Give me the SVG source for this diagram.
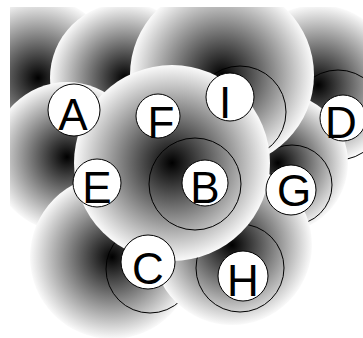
<svg xmlns="http://www.w3.org/2000/svg" width="363" height="338" viewBox="0 0 363 338">
<defs>
<radialGradient id="halo"><stop offset="0" stop-color="#000"/><stop offset="1" stop-color="#fafafa"/></radialGradient>
<clipPath id="frame"><rect x="10" y="7" width="353" height="331"/></clipPath>
<style>
.disc{fill:url(#halo)}
.ring{fill:none;stroke:#000;stroke-width:1}
.node{fill:#fff;stroke:#000;stroke-width:1}
.lbl{font-family:"Liberation Sans",Arial,sans-serif;font-size:44px;text-anchor:middle;fill:#000}
</style>
</defs>
<rect width="363" height="338" fill="#fff"/>
<g id="halos" clip-path="url(#frame)">
<g id="halo-A"><circle class="disc" cx="38" cy="78" r="80"/></g>
<g id="halo-D"><circle class="disc" cx="318" cy="85" r="80"/><circle class="ring" cx="338" cy="115" r="45"/></g>
<g id="halo-G"><circle class="disc" cx="278" cy="163" r="70"/><circle class="ring" cx="292" cy="185" r="40"/></g>
<g id="halo-F"><circle class="disc" cx="125" cy="78" r="75"/></g>
<g id="halo-E"><circle class="disc" cx="67" cy="157" r="75"/></g>
<g id="halo-I"><circle class="disc" cx="222" cy="75" r="92"/><circle class="ring" cx="240" cy="112" r="46"/></g>
<g id="halo-C"><circle class="disc" cx="112" cy="257" r="82"/><circle class="ring" cx="150" cy="269" r="44"/></g>
<g id="halo-H"><circle class="disc" cx="232" cy="245" r="80"/><circle class="ring" cx="240" cy="268" r="44"/></g>
<g id="halo-B"><circle class="disc" cx="172" cy="163" r="98"/><circle class="ring" cx="195" cy="184" r="46"/></g>
</g>
<g id="connectors"></g>
<g id="A"><circle class="node" cx="74" cy="110" r="26"/><text class="lbl" x="73" y="130">A</text></g>
<g id="F"><circle class="node" cx="158" cy="116" r="22"/><text class="lbl" x="161" y="138">F</text></g>
<g id="I"><circle class="node" cx="230" cy="97" r="24"/><text class="lbl" x="225" y="118">I</text></g>
<g id="D"><circle class="node" cx="343" cy="118" r="23"/><text class="lbl" x="341" y="138">D</text></g>
<g id="E"><circle class="node" cx="97" cy="183" r="24"/><text class="lbl" x="97" y="203">E</text></g>
<g id="B"><circle class="node" cx="205" cy="183" r="23"/><text class="lbl" x="205" y="203">B</text></g>
<g id="G"><circle class="node" cx="291" cy="190" r="25"/><text class="lbl" x="294" y="206">G</text></g>
<g id="C"><circle class="node" cx="148" cy="262" r="27"/><text class="lbl" x="148" y="284">C</text></g>
<g id="H"><circle class="node" cx="243" cy="276" r="25"/><text class="lbl" x="243" y="296">H</text></g>
</svg>
